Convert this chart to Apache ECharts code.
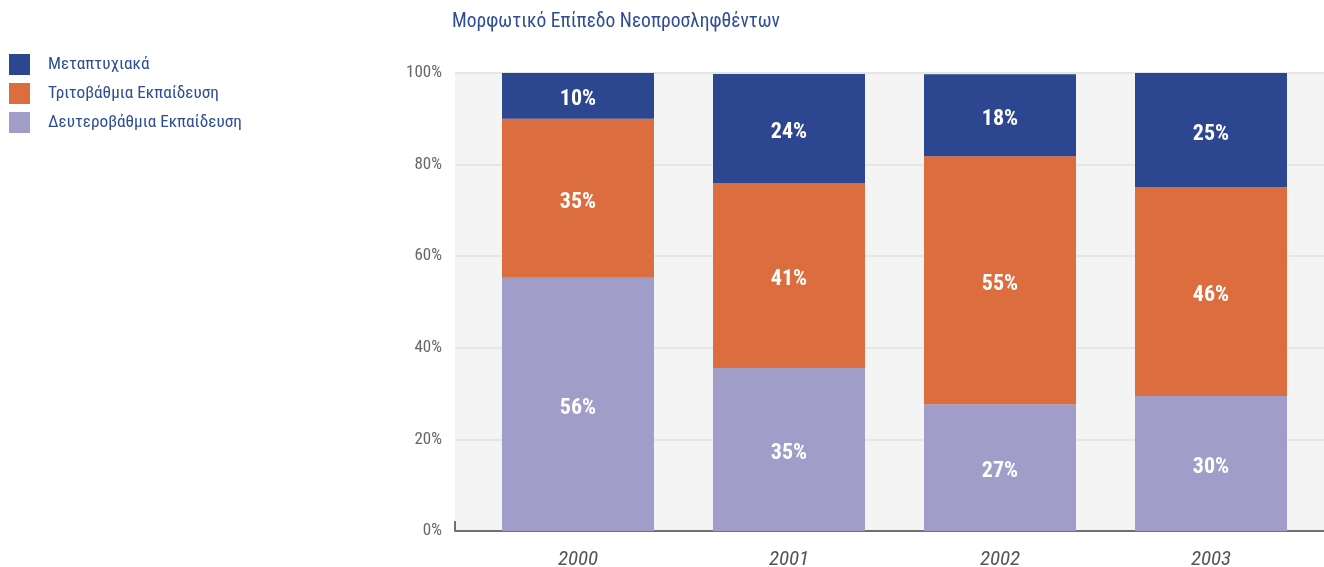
<!DOCTYPE html>
<html>
<head>
<meta charset="utf-8">
<script src="https://cdn.jsdelivr.net/npm/echarts@6/dist/echarts.min.js"></script>
<style>
html,body{margin:0;padding:0;background:#fff;}
#c{width:1324px;height:567px;}
</style>
</head>
<body>
<div id="c"></div>
<script>
// ---- data ----
const titleText = 'Μορφωτικό Επίπεδο Νεοπροσληφθέντων';
const years = ['2000', '2001', '2002', '2003'];
const seriesNames = ['Μεταπτυχιακά', 'Τριτοβάθμια Εκπαίδευση', 'Δευτεροβάθμια Εκπαίδευση'];
// bar segment shares (percent of total)
const shareSecondary = [55.3, 35.6, 27.7, 29.5];
const shareTertiary  = [34.7, 40.4, 54.1, 45.6];
const sharePostgrad  = [10.0, 23.8, 17.9, 24.9];
// printed percentage labels
const labelSecondary = [56, 35, 27, 30];
const labelTertiary  = [35, 41, 55, 46];
const labelPostgrad  = [10, 24, 18, 25];
const yTicks = [0, 20, 40, 60, 80, 100];

const colors = {
  post: '#2c4690',
  tert: '#dc6d3f',
  sec:  '#a09dc8'
};
const FONT = '"Roboto Condensed", "Liberation Sans Narrow", "DejaVu Sans Condensed", sans-serif';

const chart = echarts.init(document.getElementById('c'), null, {renderer: 'canvas'});

function mkSeries(name, data, labels, color) {
  return {
    name: name,
    type: 'bar',
    stack: 'total',
    xAxisIndex: 1,
    yAxisIndex: 1,
    barWidth: 152,
    itemStyle: {color: color},
    label: {
      show: true,
      position: 'inside',
      offset: [0, 4],
      color: '#fff',
      fontFamily: FONT,
      fontWeight: 'bold',
      fontSize: 22,
      formatter: p => labels[p.dataIndex] + '%'
    },
    emphasis: {disabled: true},
    data: data
  };
}

const option = {
  animation: false,
  title: {
    text: titleText,
    left: 452,
    top: 12,
    padding: 0,
    textStyle: {color: '#2f4d97', fontFamily: FONT, fontWeight: 'normal', fontSize: 19.5}
  },
  legend: {
    orient: 'vertical',
    left: 9,
    top: 54,
    padding: 0,
    itemWidth: 21,
    itemHeight: 21,
    itemGap: 8,
    icon: 'rect',
    data: seriesNames,
    textStyle: {color: '#2f4d97', fontFamily: FONT, fontSize: 17.2, padding: [0, 0, 0, 13]}
  },
  grid: [
    {left: 455, right: -20, top: 73, bottom: 36, show: true, backgroundColor: '#f4f4f4', borderWidth: 0,
     containLabel: false, outerBoundsMode: 'none'},
    {left: 472.5, width: 844, top: 73, bottom: 36, containLabel: false, outerBoundsMode: 'none'}
  ],
  xAxis: [
    {
      type: 'value', gridIndex: 0, min: 0, max: 1, interval: 1,
      axisLine: {show: true, lineStyle: {color: '#707070', width: 2}},
      axisTick: {show: true, inside: true, length: 10, lineStyle: {color: '#707070', width: 2}},
      axisLabel: {show: false},
      splitLine: {show: false}
    },
    {
      type: 'category', gridIndex: 1, data: years,
      axisLine: {show: false},
      axisTick: {show: false},
      axisLabel: {color: '#555', fontFamily: FONT, fontStyle: 'italic', fontSize: 21, margin: 18}
    }
  ],
  yAxis: [
    {
      type: 'value', gridIndex: 0, min: yTicks[0], max: yTicks[yTicks.length - 1], interval: 20,
      axisLine: {show: false},
      axisTick: {show: false},
      axisLabel: {color: '#666', fontFamily: FONT, fontSize: 17, margin: 13, formatter: '{value}%'},
      splitLine: {show: true, lineStyle: {color: '#e6e6e6', width: 2}}
    },
    {
      type: 'value', gridIndex: 1, min: 0, max: 100, show: false
    }
  ],
  series: [
    mkSeries(seriesNames[2], shareSecondary, labelSecondary, colors.sec),
    mkSeries(seriesNames[1], shareTertiary, labelTertiary, colors.tert),
    mkSeries(seriesNames[0], sharePostgrad, labelPostgrad, colors.post)
  ],
  color: [colors.sec, colors.tert, colors.post]
};
chart.setOption(option);
</script>
</body>
</html>
